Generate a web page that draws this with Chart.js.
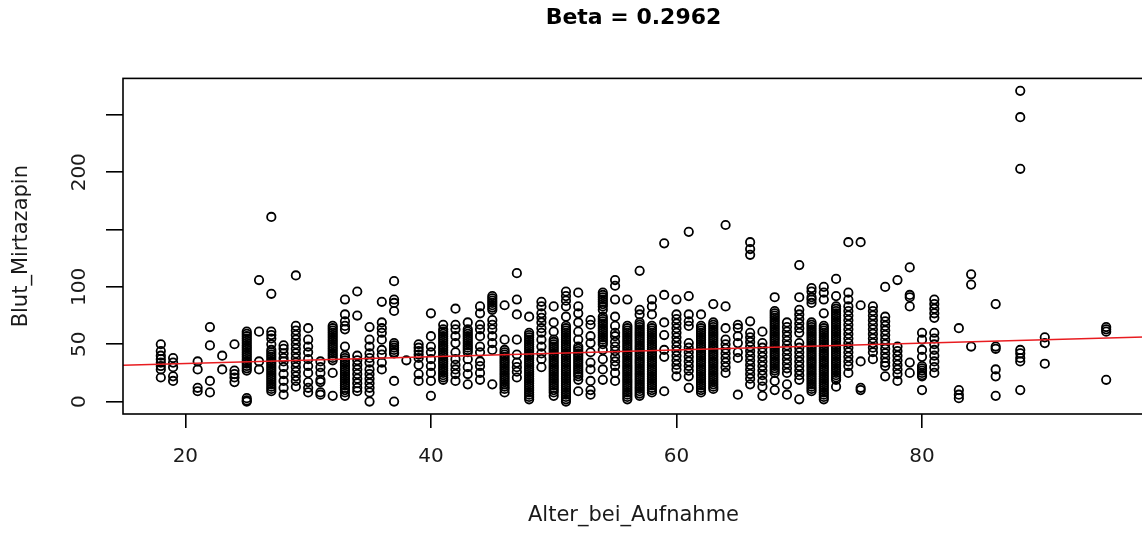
<!DOCTYPE html>
<html>
<head>
<meta charset="utf-8">
<script src="https://cdn.jsdelivr.net/npm/chart.js@4/dist/chart.umd.min.js"></script>
<style>
  html, body { margin: 0; padding: 0; background: #fff; overflow: hidden; }
  #wrap { position: relative; width: 1150px; height: 534px; }
</style>
</head>
<body>
<div id="wrap"><canvas id="streuChart" width="1150" height="534"></canvas></div>
<script>
// Alter bei Aufnahme (Jahre) und die zugehoerigen Mirtazapin-Spiegel im Blut
const AGES = [18, 19, 21, 22, 23, 24, 25, 26, 27, 28, 29, 30, 31, 32, 33, 34, 35, 36, 37, 38, 39,
              40, 41, 42, 43, 44, 45, 46, 47, 48, 49, 50, 51, 52, 53, 54, 55, 56, 57, 58, 59,
              60, 61, 62, 63, 64, 65, 66, 67, 68, 69, 70, 71, 72, 73, 74, 75, 76, 77, 78, 79,
              80, 81, 83, 84, 86, 88, 90, 95];

const BLUT = [
  [50, 44, 40, 37, 34, 31, 28, 21],                                   // 18
  [38, 34, 30, 22, 18],                                               // 19
  [35, 28, 12, 9],                                                    // 21
  [65, 49, 18, 8],                                                    // 22
  [40, 28],                                                           // 23
  [50, 27, 24, 21, 17],                                               // 24
  [61, 59, 57, 55, 53, 51, 49, 47, 45, 43, 41, 39, 37, 35, 33, 31, 29, 27, 3, 1, 0], // 25
  [106, 61, 35, 28],                                                  // 26
  [161, 94, 61, 58, 55, 50, 45, 43, 41, 39, 37, 35, 33, 31, 29, 27, 25, 23, 21, 19, 17, 15, 13, 11, 9], // 27
  [49, 46, 42, 38, 35, 30, 24, 18, 12, 6],                            // 28
  [110, 66, 62, 58, 54, 50, 46, 42, 38, 34, 30, 26, 22, 18, 13],      // 29
  [64, 54, 48, 43, 37, 31, 25, 17, 12, 8],                            // 30
  [35, 30, 25, 19, 17, 8, 6],                                         // 31
  [66, 64, 62, 60, 58, 56, 54, 52, 50, 48, 46, 44, 42, 40, 38, 36, 25, 5], // 32
  [89, 76, 70, 66, 63, 48, 40, 38, 36, 34, 32, 30, 28, 26, 24, 22, 20, 18, 16, 14, 12, 10, 8, 5], // 33
  [96, 75, 40, 36, 32, 28, 24, 20, 16, 12, 9],                        // 34
  [65, 54, 48, 42, 38, 34, 28, 24, 20, 16, 12, 8, 0],                 // 35
  [87, 69, 64, 60, 54, 45, 41, 34, 28],                               // 36
  [105, 89, 86, 79, 51, 49, 47, 45, 43, 42, 18, 0],                   // 37
  [36],                                                               // 38
  [50, 47, 44, 41, 38, 32, 24, 18],                                   // 39
  [77, 57, 48, 43, 37, 31, 25, 18, 5],                                // 40
  [67, 63, 61, 59, 57, 55, 53, 51, 49, 47, 45, 43, 41, 39, 37, 35, 33, 31, 29, 27, 25, 23, 21, 19], // 41
  [81, 67, 63, 57, 51, 43, 37, 32, 28, 24, 18],                       // 42
  [69, 63, 61, 59, 57, 55, 53, 51, 49, 47, 45, 43, 37, 30, 24, 15],   // 43
  [83, 77, 67, 63, 57, 48, 43, 35, 31, 25, 19],                       // 44
  [92, 90, 88, 86, 84, 82, 80, 71, 67, 63, 57, 51, 45, 15],           // 45
  [84, 54, 45, 43, 41, 39, 37, 35, 33, 31, 29, 27, 25, 23, 21, 19, 17, 15, 13, 11, 8], // 46
  [112, 89, 76, 54, 41, 34, 30, 26, 21],                              // 47
  [74, 60, 58, 56, 54, 52, 50, 48, 46, 44, 42, 40, 38, 36, 34, 32, 30, 28, 26, 24, 22, 20, 18, 16, 14, 12, 10, 8, 6, 4, 2], // 48
  [87, 83, 77, 73, 69, 64, 60, 54, 48, 42, 37, 30],                   // 49
  [83, 69, 61, 54, 52, 50, 48, 46, 44, 42, 40, 38, 36, 34, 32, 30, 28, 26, 24, 22, 20, 18, 16, 14, 12, 10, 8, 5], // 50
  [96, 92, 88, 83, 74, 66, 64, 62, 60, 58, 56, 54, 52, 50, 48, 46, 44, 42, 40, 38, 36, 34, 32, 30, 28, 26, 24, 22, 20, 18, 16, 14, 12, 10, 8, 6, 4, 2, 0], // 51
  [95, 83, 77, 69, 61, 54, 48, 46, 44, 42, 40, 38, 36, 34, 32, 30, 28, 26, 24, 22, 19, 9], // 52
  [71, 67, 57, 51, 43, 34, 28, 18, 10, 6],                            // 53
  [95, 93, 91, 89, 87, 85, 83, 80, 74, 72, 70, 68, 66, 64, 62, 60, 58, 56, 54, 52, 50, 45, 37, 28, 19], // 54
  [106, 101, 89, 74, 66, 60, 57, 52, 48, 44, 39, 35, 31, 25, 18],     // 55
  [89, 66, 64, 62, 60, 58, 56, 54, 52, 50, 48, 46, 44, 42, 40, 38, 36, 34, 32, 30, 28, 26, 24, 22, 20, 18, 16, 14, 12, 10, 8, 6, 4, 2], // 56
  [114, 80, 76, 69, 67, 65, 63, 61, 59, 57, 55, 53, 51, 49, 47, 45, 43, 41, 39, 37, 35, 33, 31, 29, 27, 25, 23, 21, 19, 17, 15, 13, 11, 9, 7, 5], // 57
  [89, 83, 76, 66, 64, 62, 60, 58, 56, 54, 52, 50, 48, 46, 44, 42, 40, 38, 36, 34, 32, 30, 28, 26, 24, 22, 20, 18, 16, 14, 12, 10, 8], // 58
  [138, 93, 69, 58, 45, 39, 9],                                       // 59
  [89, 76, 72, 68, 64, 60, 56, 52, 48, 44, 40, 36, 32, 28, 22],       // 60
  [148, 92, 76, 70, 66, 51, 47, 43, 39, 35, 31, 27, 22, 12],          // 61
  [76, 66, 64, 62, 60, 58, 56, 54, 52, 50, 48, 46, 44, 42, 40, 38, 36, 34, 32, 30, 28, 26, 24, 22, 20, 18, 16, 14, 12, 10, 8], // 62
  [85, 69, 67, 65, 63, 61, 59, 57, 55, 53, 51, 49, 47, 45, 43, 41, 39, 37, 35, 33, 31, 29, 27, 25, 23, 21, 19, 17, 15, 13, 11], // 63
  [154, 83, 64, 54, 50, 46, 42, 38, 34, 30, 25],                      // 64
  [67, 64, 57, 51, 43, 38, 6],                                        // 65
  [139, 133, 128, 70, 60, 56, 52, 48, 44, 40, 36, 32, 28, 24, 20, 15], // 66
  [61, 51, 47, 43, 39, 35, 31, 27, 23, 18, 13, 5],                    // 67
  [91, 79, 77, 75, 73, 71, 69, 67, 65, 63, 61, 59, 57, 55, 53, 51, 49, 47, 45, 43, 41, 39, 37, 35, 33, 31, 29, 27, 25, 18, 10], // 68
  [69, 65, 61, 57, 53, 49, 45, 41, 37, 33, 29, 25, 15, 6],            // 69
  [119, 91, 80, 76, 72, 68, 64, 60, 51, 47, 43, 39, 35, 31, 27, 23, 19, 2], // 70
  [99, 96, 91, 89, 86, 69, 67, 65, 63, 61, 59, 57, 55, 53, 51, 49, 47, 45, 43, 41, 39, 37, 35, 33, 31, 29, 27, 25, 23, 21, 19, 17, 15, 13, 11, 9], // 71
  [100, 95, 89, 77, 66, 64, 62, 60, 58, 56, 54, 52, 50, 48, 46, 44, 42, 40, 38, 36, 34, 32, 30, 28, 26, 24, 22, 20, 18, 16, 14, 12, 10, 8, 6, 4, 2], // 72
  [107, 92, 83, 81, 79, 77, 75, 73, 71, 69, 67, 65, 63, 61, 59, 57, 55, 53, 51, 49, 47, 45, 43, 41, 39, 37, 35, 33, 31, 29, 27, 25, 23, 21, 19, 13], // 73
  [139, 95, 89, 83, 79, 75, 71, 67, 63, 59, 55, 51, 47, 43, 39, 35, 31, 25], // 74
  [139, 84, 35, 12, 10],                                              // 75
  [83, 79, 75, 71, 67, 63, 59, 55, 51, 47, 43, 37],                   // 76
  [100, 74, 70, 66, 62, 58, 54, 50, 46, 42, 38, 34, 31, 22],          // 77
  [106, 48, 44, 40, 36, 32, 28, 24, 18],                              // 78
  [117, 93, 91, 83, 34, 25],                                          // 79
  [60, 54, 45, 39, 31, 29, 27, 25, 23, 22, 10],                       // 80
  [89, 85, 81, 77, 73, 60, 55, 50, 45, 40, 35, 30, 25],               // 81
  [64, 10, 6, 3],                                                     // 83
  [111, 102, 48],                                                     // 84
  [85, 48, 46, 28, 22, 5],                                            // 86
  [271, 248, 203, 45, 42, 38, 35, 10],                                // 88
  [56, 51, 33],                                                       // 90
  [65, 63, 61, 19]                                                    // 95
];

const X_TICKS = [20, 40, 60, 80];
const Y_TICKS = [0, 50, 100, 150, 200, 250];
const Y_TICK_LABELS = ['0', '50', '100', '', '200', ''];
const X_RANGE = [14.92, 98.08];
const Y_RANGE = [-10.84, 281.84];

// Regressionsgerade
const BETA = 0.2962;
const INTERCEPT = 27.3;

const punkte = AGES.flatMap((alter, i) => BLUT[i].map(wert => ({ x: alter, y: wert })));
const gerade = X_RANGE.map(x => ({ x: x, y: INTERCEPT + BETA * x }));

const SCHRIFT = "'DejaVu Sans', 'Liberation Sans', Arial, sans-serif";
const TEXTFARBE = '#1a1a1a';

// Rahmen um die Zeichenflaeche wie bei plot() in R
const rahmen = {
    id: 'rahmen',
    afterDatasetsDraw(chart) {
        const { ctx, chartArea: a } = chart;
        ctx.save();
        ctx.strokeStyle = '#000';
        ctx.lineWidth = 1.6;
        ctx.strokeRect(a.left, a.top, a.right - a.left, a.bottom - a.top);
        ctx.restore();
    }
};

const ctx = document.getElementById('streuChart').getContext('2d');
new Chart(ctx, {
    type: 'scatter',
    data: {
        datasets: [
            {
                label: 'Regression',
                data: gerade,
                showLine: true,
                borderColor: 'rgb(232, 28, 32)',
                borderWidth: 1.6,
                pointRadius: 0,
                order: 1,
            },
            {
                label: 'Blut_Mirtazapin',
                data: punkte,
                pointStyle: 'circle',
                pointRadius: 4.2,
                pointBorderWidth: 1.8,
                pointBorderColor: '#000',
                pointBackgroundColor: 'rgba(0, 0, 0, 0)',
                order: 2,
            },
        ],
    },
    options: {
        responsive: false,
        animation: false,
        devicePixelRatio: 1,
        layout: { padding: { left: 0, right: 6, top: 0, bottom: 0 } },
        plugins: {
            legend: { display: false },
            tooltip: { enabled: false },
            title: {
                display: true,
                text: 'Beta = 0.2962',
                fullSize: false,
                color: '#000',
                font: { family: SCHRIFT, size: 22, weight: 'bold' },
                padding: { top: 5, bottom: 47 },
            },
        },
        scales: {
            x: {
                type: 'linear',
                min: X_RANGE[0],
                max: X_RANGE[1],
                afterBuildTicks: s => { s.ticks = X_TICKS.map(v => ({ value: v })); },
                afterFit: s => { s.height = 120; },
                border: { display: false },
                grid: { drawOnChartArea: false, drawTicks: true, tickLength: 14, color: '#000', lineWidth: 1.6 },
                ticks: {
                    autoSkip: false, maxRotation: 0, padding: 17,
                    color: TEXTFARBE, font: { family: SCHRIFT, size: 20 },
                },
                title: {
                    display: true, text: 'Alter_bei_Aufnahme', color: TEXTFARBE,
                    font: { family: SCHRIFT, size: 21 }, padding: { top: 0, bottom: 6 },
                },
            },
            y: {
                type: 'linear',
                min: Y_RANGE[0],
                max: Y_RANGE[1],
                afterBuildTicks: s => { s.ticks = Y_TICKS.map(v => ({ value: v })); },
                afterFit: s => { s.width = 123; },
                border: { display: false },
                grid: { drawOnChartArea: false, drawTicks: true, tickLength: 17, color: '#000', lineWidth: 1.6 },
                ticks: {
                    autoSkip: false, minRotation: 90, maxRotation: 90, crossAlign: 'center', padding: 7,
                    color: TEXTFARBE, font: { family: SCHRIFT, size: 20 },
                    callback: (v, i) => Y_TICK_LABELS[i],
                },
                title: {
                    display: true, text: 'Blut_Mirtazapin', color: TEXTFARBE,
                    font: { family: SCHRIFT, size: 21 }, padding: { top: 9, bottom: 0 },
                },
            },
        },
    },
    plugins: [rahmen],
});
</script>
</body>
</html>
